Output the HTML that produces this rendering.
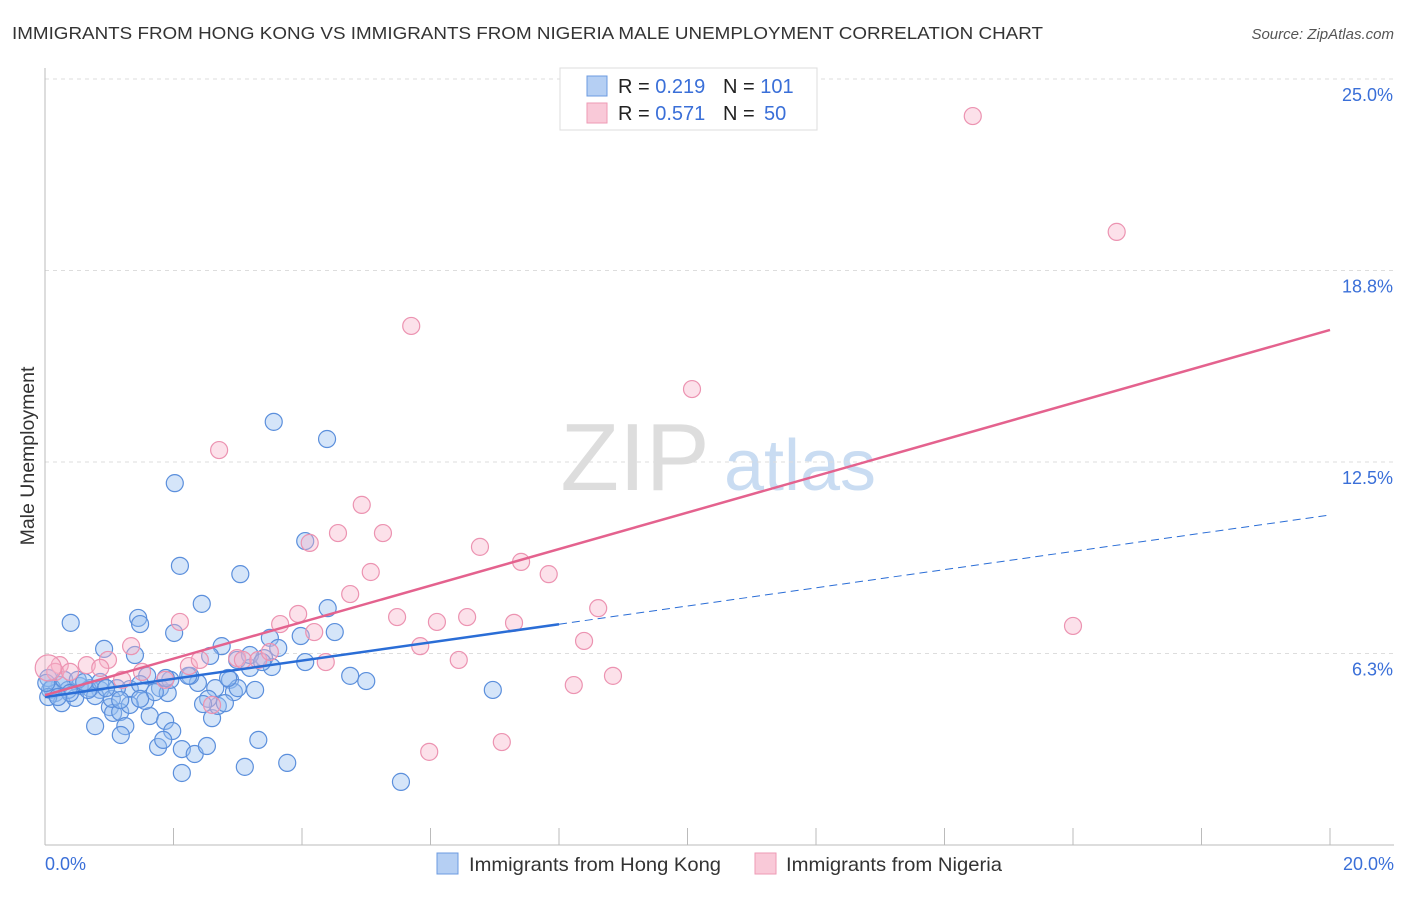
<!DOCTYPE html>
<html><head><meta charset="utf-8"><style>
body{margin:0;background:#fff;font-family:"Liberation Sans",sans-serif;}
svg text{font-family:"Liberation Sans",sans-serif;}
</style></head><body>
<svg id="chart" width="1406" height="892" viewBox="0 0 1406 892" xmlns="http://www.w3.org/2000/svg">
<text x="12" y="39" font-size="17.5" fill="#333" textLength="1031" lengthAdjust="spacingAndGlyphs">IMMIGRANTS FROM HONG KONG VS IMMIGRANTS FROM NIGERIA MALE UNEMPLOYMENT CORRELATION CHART</text>
<text x="1394" y="39" font-size="15" fill="#555" text-anchor="end" font-style="italic">Source: ZipAtlas.com</text>
<g>
<text x="635" y="490" font-size="96" fill="#ddd" font-family="Liberation Serif" text-anchor="middle">ZIP</text>
<text x="800" y="490" font-size="72" fill="#c9dcf2" text-anchor="middle">atlas</text>
</g>
<g id="grid"></g>
<g id="axes"></g>
<g id="marks"></g>
<text transform="translate(34,456) rotate(-90)" font-size="19.5" fill="#333" text-anchor="middle">Male Unemployment</text>
<g>
<rect x="560" y="68" width="257" height="62" fill="#fff" stroke="#ddd"/>
<rect x="587" y="76" width="20" height="20" fill="#b5cff3" stroke="#6c9be0"/>
<rect x="587" y="103" width="20" height="20" fill="#f9c9d8" stroke="#ee9ab5"/>
<text x="618" y="93" font-size="20" fill="#222">R = <tspan fill="#3a6fd8">0.219</tspan><tspan x="723">N = </tspan><tspan fill="#3a6fd8">101</tspan></text>
<text x="618" y="120" font-size="20" fill="#222">R = <tspan fill="#3a6fd8">0.571</tspan><tspan x="723">N = </tspan><tspan fill="#3a6fd8" x="764">50</tspan></text>
</g>
<g>
<rect x="437" y="853" width="21" height="21" fill="#b5cff3" stroke="#6c9be0"/>
<text x="469" y="871" font-size="19.5" fill="#333" textLength="252" lengthAdjust="spacingAndGlyphs">Immigrants from Hong Kong</text>
<rect x="755" y="853" width="21" height="21" fill="#f9c9d8" stroke="#ee9ab5"/>
<text x="786" y="871" font-size="19.5" fill="#333" textLength="216" lengthAdjust="spacingAndGlyphs">Immigrants from Nigeria</text>
</g>
</svg>
<script>
const yTicks=[6.25,12.5,18.75,25];
const yTickLabels=["6.3%","12.5%","18.8%","25.0%"];
const xTicks=[0,2,4,6,8,10,12,14,16,18,20];
const hkX=[.40,.92,1.45,1.48,1.40,2.02,2.10,2.44,3.04,3.56,4.39,4.05,4.40,4.51,3.50,3.98,2.75,2.99,2.57,2.01,1.59,1.79,1.91,1.32,.86,.70,.54,.23,.08,.16,.26,.47,.78,1.01,1.06,1.17,1.25,.78,1.18,1.63,1.87,1.98,1.76,1.84,2.13,2.33,2.52,2.13,3.11,3.32,3.77,5.54,6.97,5.00,4.75,4.05,3.53,3.41,3.19,2.88,2.94,2.65,2.38,2.26,2.60,2.69,2.80,3.00,3.27,2.54,1.56,1.04,1.32,1.12,.67,.36,.05,.11,.30,.51,.61,.86,.95,1.17,1.48,1.71,1.95,2.23,2.46,2.85,.05,.39,.20,.02,1.48,1.88,3.19,3.38,3.63];
const hkY=[7.25,6.40,7.41,7.21,6.20,11.81,9.11,7.87,8.84,13.81,13.25,9.92,7.73,6.95,6.76,6.82,6.49,6.04,6.17,6.92,5.52,5.12,4.96,5.09,5.06,5.12,5.19,5.22,5.06,4.96,4.63,4.80,4.86,4.50,4.31,4.34,3.88,3.88,3.59,4.21,4.05,3.72,3.20,3.43,3.13,2.97,3.23,2.35,2.55,3.43,2.68,2.06,5.06,5.35,5.52,5.97,5.81,6.10,5.78,5.39,4.99,5.12,5.29,5.52,4.14,4.54,4.63,5.12,5.06,4.77,4.70,4.77,4.57,5.12,5.06,5.06,5.45,5.12,5.39,5.39,5.32,5.32,5.12,4.73,5.25,4.99,5.39,5.52,4.60,5.45,4.83,4.96,4.83,5.29,4.77,5.45,6.20,5.97,6.43];
const ngX=[14.44,16.68,5.70,10.07,2.71,4.93,4.12,4.56,5.26,6.77,5.07,7.41,7.84,4.75,3.94,5.48,6.10,6.57,7.30,8.61,16.00,3.66,4.19,4.37,5.84,6.44,8.39,8.84,8.23,5.98,7.11,2.10,1.34,.98,.65,.23,.16,.39,.86,1.51,1.87,2.24,2.41,2.99,3.08,3.32,3.50,2.60,1.20,.05];
const ngY=[23.79,20.01,16.94,14.88,12.89,11.10,9.86,10.18,10.18,9.73,8.91,9.24,8.84,8.19,7.54,7.44,7.28,7.44,7.25,7.73,7.15,7.21,6.95,5.97,6.49,6.04,6.66,5.52,5.22,3.04,3.36,7.28,6.49,6.04,5.87,5.87,5.65,5.65,5.78,5.65,5.39,5.84,6.04,6.10,6.04,6.04,6.30,4.57,5.39,5.78];
const hkTrend=[4.83,10.77];
const hkSolidEnd=8;
const ngTrend=[4.89,16.81];
const X=v=>45+v/20*1285;
const Y=v=>845-v*30.64;
const NS="http://www.w3.org/2000/svg";
function mk(tag,attrs,parent){const e=document.createElementNS(NS,tag);for(const k in attrs)e.setAttribute(k,attrs[k]);parent.appendChild(e);return e;}
const gridG=document.getElementById('grid'),axesG=document.getElementById('axes'),marksG=document.getElementById('marks');
yTicks.forEach((t,i)=>{
 const l=mk('line',{x1:45,x2:1394,y1:Y(t),y2:Y(t),stroke:'#ddd','stroke-dasharray':'4,4'},gridG);
 
 
 const tx=mk('text',{x:1393,y:Y(t)+22,'font-size':18,fill:'#3a6fd8','text-anchor':'end'},axesG);
 tx.textContent=yTickLabels[i];
 
 
});
const topLine=mk('line',{x1:45,x2:1394,y1:79,y2:79,stroke:'#ddd','stroke-dasharray':'4,4'},gridG);


const ya=mk('line',{x1:45,x2:45,y1:68,y2:845,stroke:'#bbb'},axesG);


const xa=mk('line',{x1:45,x2:1394,y1:845,y2:845,stroke:'#bbb'},axesG);


xTicks.forEach(t=>{
 const l=mk('line',{x1:X(t),x2:X(t),y1:828,y2:845,stroke:'#bbb'},axesG);
 
 
});
const xl0=mk('text',{x:45,y:870,'font-size':18,fill:'#3a6fd8'},axesG);xl0.textContent='0.0%';


const xl1=mk('text',{x:1394,y:870,'font-size':18,fill:'#3a6fd8','text-anchor':'end'},axesG);xl1.textContent='20.0%';


hkX.forEach((x,i)=>{
 const c=mk('circle',{cx:X(x),cy:Y(hkY[i]),r:8.5,fill:'rgba(150,190,240,0.4)',stroke:'#5b8fdc','stroke-width':1.2},marksG);
 
 
});
ngX.forEach((x,i)=>{
 const c=mk('circle',{cx:X(x),cy:Y(ngY[i]),r:i==ngX.length-1?13:8.5,fill:'rgba(247,180,202,0.4)',stroke:'#ec93b1','stroke-width':1.2},marksG);
 
 
});
const hkAt=v=>hkTrend[0]+(hkTrend[1]-hkTrend[0])*v/20;
const t1=mk('line',{x1:X(0),y1:Y(hkTrend[0]),x2:X(hkSolidEnd),y2:Y(hkAt(hkSolidEnd)),stroke:'#2a6dd6','stroke-width':2.5},marksG);


const t2=mk('line',{x1:X(hkSolidEnd),y1:Y(hkAt(hkSolidEnd)),x2:X(20),y2:Y(hkTrend[1]),stroke:'#2a6dd6','stroke-width':1,'stroke-dasharray':'8,5'},marksG);


const t3=mk('line',{x1:X(0),y1:Y(ngTrend[0]),x2:X(20),y2:Y(ngTrend[1]),stroke:'#e4628e','stroke-width':2.5},marksG);


</script>
</body></html>
